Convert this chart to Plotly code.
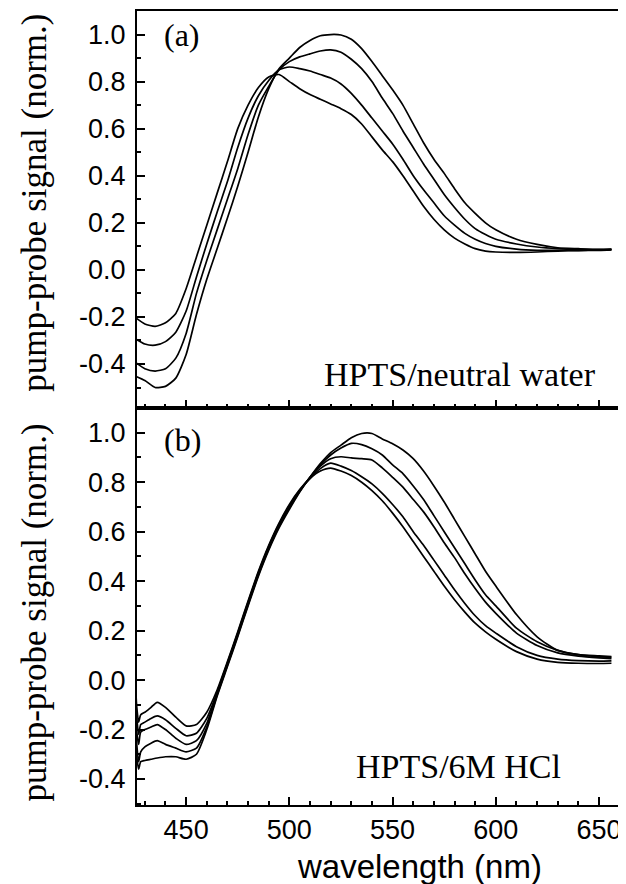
import plotly.graph_objects as go
from plotly.subplots import make_subplots

# ---------------- data: panel (a) HPTS / neutral water ----------------
wl_a = [425, 430, 435, 440, 445, 450, 455, 460, 465, 470, 475, 480, 485, 490, 495,
        500, 505, 510, 515, 520, 525, 530, 535, 540, 545, 550, 555, 560, 565, 570,
        575, 580, 585, 590, 595, 600, 610, 620, 630, 640, 650, 656]

a_curve1 = [-0.20, -0.23, -0.24, -0.225, -0.185, -0.08, 0.055, 0.19, 0.325, 0.46, 0.60,
            0.70, 0.775, 0.82, 0.83, 0.80, 0.77, 0.745, 0.725, 0.705, 0.685, 0.66, 0.62,
            0.565, 0.51, 0.46, 0.40, 0.335, 0.27, 0.215, 0.17, 0.135, 0.11, 0.09, 0.08,
            0.076, 0.074, 0.076, 0.08, 0.082, 0.083, 0.085]
a_curve2 = [-0.29, -0.315, -0.32, -0.305, -0.265, -0.175, -0.03, 0.11, 0.245, 0.375, 0.52,
            0.645, 0.74, 0.805, 0.85, 0.862, 0.855, 0.845, 0.83, 0.815, 0.79, 0.75, 0.70,
            0.645, 0.59, 0.535, 0.47, 0.40, 0.34, 0.285, 0.23, 0.19, 0.155, 0.13, 0.112,
            0.10, 0.088, 0.083, 0.083, 0.083, 0.084, 0.086]
a_curve3 = [-0.39, -0.42, -0.43, -0.42, -0.375, -0.27, -0.10, 0.04, 0.17, 0.30, 0.43,
            0.575, 0.70, 0.78, 0.85, 0.885, 0.905, 0.918, 0.93, 0.935, 0.925, 0.895, 0.855,
            0.80, 0.73, 0.665, 0.59, 0.52, 0.45, 0.385, 0.32, 0.265, 0.215, 0.175, 0.15,
            0.13, 0.11, 0.097, 0.09, 0.087, 0.086, 0.087]
a_curve4 = [-0.45, -0.47, -0.50, -0.495, -0.46, -0.36, -0.19, -0.04, 0.09, 0.22, 0.355,
            0.50, 0.65, 0.77, 0.855, 0.90, 0.945, 0.975, 0.995, 1.0, 0.998, 0.98, 0.94,
            0.885, 0.825, 0.765, 0.70, 0.62, 0.54, 0.47, 0.41, 0.345, 0.285, 0.24, 0.20,
            0.17, 0.13, 0.108, 0.094, 0.09, 0.087, 0.088]

# ---------------- data: panel (b) HPTS / 6M HCl ----------------
wl_b = [425, 426, 427, 428, 430, 433, 436, 440, 445, 450, 455, 460, 465, 470, 475, 480,
        485, 490, 495, 500, 505, 510, 515, 520, 525, 530, 535, 540, 545, 550, 555, 560,
        565, 570, 575, 580, 585, 590, 595, 600, 610, 620, 630, 640, 650, 656]

b_curve1 = [0.07, -0.10, -0.17, -0.14, -0.13, -0.11, -0.09, -0.11, -0.15, -0.185, -0.18,
            -0.13, -0.04, 0.075, 0.195, 0.32, 0.44, 0.545, 0.635, 0.71, 0.77, 0.815, 0.845,
            0.857, 0.845, 0.827, 0.80, 0.766, 0.725, 0.675, 0.62, 0.56, 0.50, 0.44, 0.38,
            0.325, 0.275, 0.23, 0.195, 0.165, 0.115, 0.085, 0.072, 0.068, 0.067, 0.068]
b_curve2 = [0.03, -0.14, -0.22, -0.18, -0.17, -0.155, -0.145, -0.16, -0.195, -0.225, -0.215,
            -0.155, -0.05, 0.07, 0.19, 0.315, 0.435, 0.54, 0.63, 0.705, 0.767, 0.815, 0.855,
            0.877, 0.865, 0.847, 0.822, 0.793, 0.755, 0.71, 0.66, 0.60, 0.545, 0.485, 0.425,
            0.365, 0.31, 0.26, 0.22, 0.19, 0.135, 0.10, 0.085, 0.079, 0.077, 0.078]
b_curve3 = [0.0, -0.20, -0.26, -0.21, -0.20, -0.19, -0.18, -0.20, -0.235, -0.26, -0.245,
            -0.175, -0.055, 0.065, 0.185, 0.31, 0.43, 0.535, 0.625, 0.70, 0.765, 0.82, 0.865,
            0.895, 0.903, 0.898, 0.895, 0.89, 0.858, 0.82, 0.78, 0.73, 0.68, 0.62, 0.555,
            0.495, 0.43, 0.37, 0.315, 0.27, 0.19, 0.14, 0.11, 0.097, 0.09, 0.087]
b_curve4 = [-0.05, -0.25, -0.33, -0.29, -0.27, -0.255, -0.245, -0.26, -0.275, -0.29, -0.275,
            -0.19, -0.06, 0.06, 0.18, 0.305, 0.425, 0.53, 0.62, 0.695, 0.762, 0.82, 0.87,
            0.91, 0.938, 0.957, 0.952, 0.935, 0.91, 0.87, 0.835, 0.785, 0.73, 0.665, 0.60,
            0.535, 0.47, 0.405, 0.345, 0.30, 0.21, 0.155, 0.12, 0.103, 0.095, 0.092]
b_curve5 = [-0.10, -0.30, -0.36, -0.33, -0.325, -0.32, -0.315, -0.31, -0.31, -0.32, -0.30,
            -0.20, -0.065, 0.055, 0.175, 0.30, 0.42, 0.525, 0.615, 0.69, 0.76, 0.82, 0.875,
            0.92, 0.95, 0.98, 0.997, 0.997, 0.975, 0.955, 0.93, 0.895, 0.845, 0.785, 0.72,
            0.65, 0.58, 0.51, 0.44, 0.38, 0.265, 0.175, 0.12, 0.103, 0.098, 0.095]

# ---------------- tick labels ----------------
y_tick_vals = [-0.4, -0.2, 0.0, 0.2, 0.4, 0.6, 0.8, 1.0]
y_tick_text = ["-0.4", "-0.2", "0.0", "0.2", "0.4", "0.6", "0.8", "1.0"]
x_tick_vals = [450, 500, 550, 600, 650]
x_tick_text = ["450", "500", "550", "600", "650"]

panel_a_curves = [a_curve1, a_curve2, a_curve3, a_curve4]
panel_b_curves = [b_curve1, b_curve2, b_curve3, b_curve4, b_curve5]

fig = make_subplots(rows=2, cols=1, shared_xaxes=True, vertical_spacing=0)

line_style = dict(color="black", width=1.7, shape="spline", smoothing=0.6)
for c in panel_a_curves:
    fig.add_trace(go.Scatter(x=wl_a, y=c, mode="lines", line=line_style,
                             showlegend=False, hoverinfo="skip"), row=1, col=1)
for c in panel_b_curves:
    fig.add_trace(go.Scatter(x=wl_b, y=c, mode="lines", line=line_style,
                             showlegend=False, hoverinfo="skip"), row=2, col=1)

tick_font = dict(family="Liberation Sans, Arial, sans-serif", size=27, color="black")
common = dict(showline=True, linecolor="black", linewidth=2, mirror=True,
              ticks="inside", ticklen=8, tickwidth=1.5, tickcolor="black",
              showgrid=False, zeroline=False, tickfont=tick_font, automargin=False)

x_common = dict(common, range=[426.2, 661.6], tickmode="array", tickvals=x_tick_vals,
                ticktext=x_tick_text,
                minor=dict(ticks="inside", ticklen=4, tickwidth=1.5, tickcolor="black",
                           dtick=10, tick0=0, showgrid=False))
fig.update_xaxes(**x_common, showticklabels=False, row=1, col=1)
fig.update_xaxes(**x_common, showticklabels=True, ticklabelstandoff=0, row=2, col=1)

y_common = dict(common, tickmode="array", tickvals=y_tick_vals, ticktext=y_tick_text,
                ticklabelstandoff=4,
                minor=dict(ticks="inside", ticklen=4, tickwidth=1.5, tickcolor="black",
                           dtick=0.1, tick0=0, showgrid=False))
fig.update_yaxes(**y_common, range=[-0.587, 1.10], domain=[0.5, 1.0], row=1, col=1)
fig.update_yaxes(**y_common, range=[-0.505, 1.10], domain=[0.0, 0.5], row=2, col=1)

serif = "Liberation Serif, Times New Roman, serif"
annotations = [
    dict(text="(a)", x=0.0926, y=0.9698, font=dict(family=serif, size=32)),
    dict(text="(b)", x=0.0926, y=0.4597, font=dict(family=serif, size=32)),
    dict(text="HPTS/neutral water", x=0.9486, y=0.542, xanchor="right",
         font=dict(family=serif, size=34)),
    dict(text="HPTS/6M HCl", x=0.8765, y=0.0491, xanchor="right",
         font=dict(family=serif, size=34)),
    dict(text="pump-probe signal (norm.)", x=0, y=0.7586, textangle=-90, xshift=-102,
         font=dict(family=serif, size=35)),
    dict(text="pump-probe signal (norm.)", x=0, y=0.2424, textangle=-90, xshift=-102,
         font=dict(family=serif, size=35)),
    dict(text="wavelength (nm)", x=0.5823, y=-0.078,
         font=dict(family="Liberation Sans, Arial, sans-serif", size=33)),
]
for a in annotations:
    a.setdefault("xanchor", "center")
    a.update(xref="paper", yref="paper", showarrow=False, yanchor="middle")
    a["font"]["color"] = "black"
fig.update_layout(annotations=annotations)

# slightly heavier right frame edge, as in the scanned original
fig.add_shape(type="line", xref="paper", yref="paper", x0=1, x1=1, y0=0, y1=1,
              line=dict(color="black", width=3))

# the page body adds an 8 px margin, so the figure is 8 px smaller and margins shifted
fig.update_layout(template="none", width=618, height=876,
                  margin=dict(l=129, r=3, t=3, b=79, autoexpand=False),
                  plot_bgcolor="white", paper_bgcolor="white", showlegend=False)

fig.write_html("out.html")
